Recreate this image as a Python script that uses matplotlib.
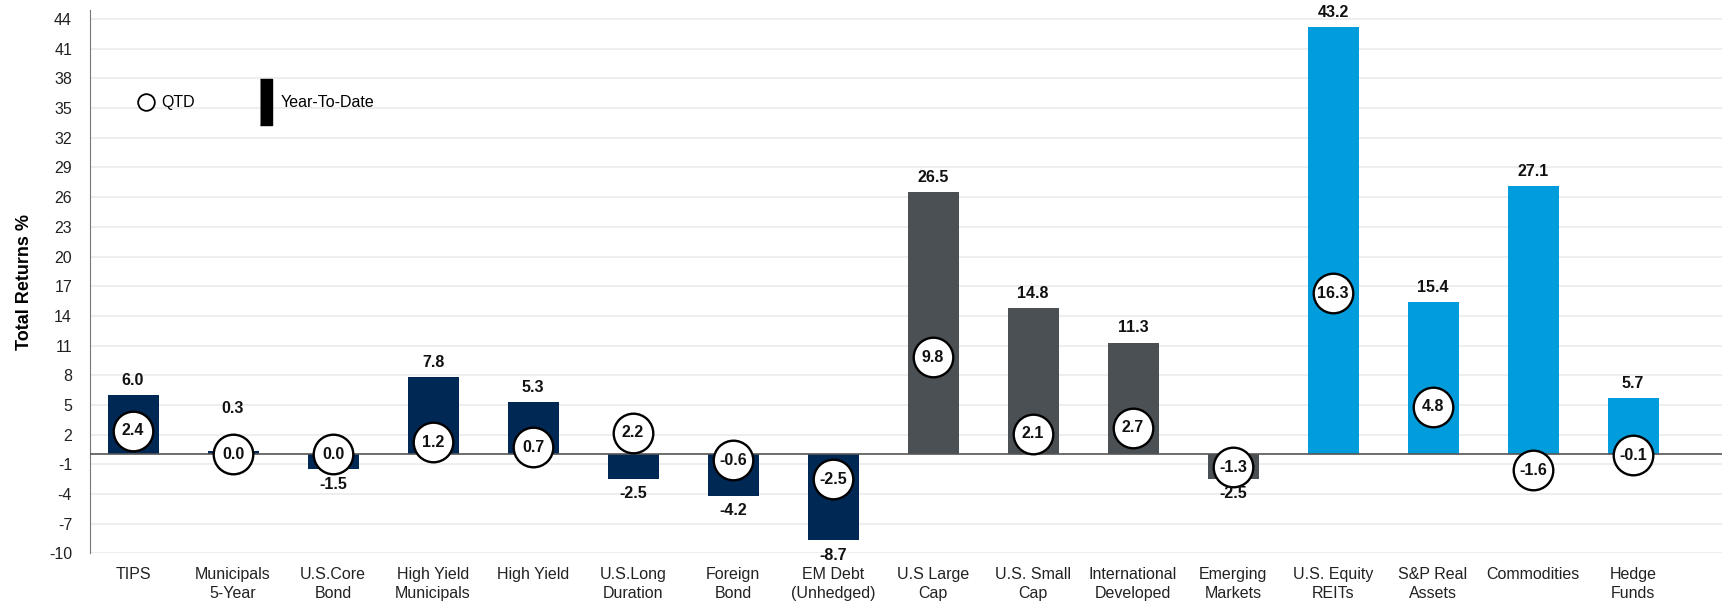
import matplotlib.pyplot as plt
from matplotlib.lines import Line2D
import numpy as np

plt.rcParams["font.family"] = ["Liberation Sans", "DejaVu Sans"]
plt.rcParams["axes.unicode_minus"] = False

# === Data ===
categories = ["TIPS", "Municipals\n5-Year", "U.S.Core\nBond", "High Yield\nMunicipals",
              "High Yield", "U.S.Long\nDuration", "Foreign\nBond", "EM Debt\n(Unhedged)",
              "U.S Large\nCap", "U.S. Small\nCap", "International\nDeveloped",
              "Emerging\nMarkets", "U.S. Equity\nREITs", "S&P Real\nAssets",
              "Commodities", "Hedge\nFunds"]
ytd = [6.0, 0.3, -1.5, 7.8, 5.3, -2.5, -4.2, -8.7, 26.5, 14.8, 11.3, -2.5, 43.2, 15.4, 27.1, 5.7]
qtd = [2.4, 0.0, 0.0, 1.2, 0.7, 2.2, -0.6, -2.5, 9.8, 2.1, 2.7, -1.3, 16.3, 4.8, -1.6, -0.1]
groups = ["fi"] * 8 + ["eq"] * 4 + ["ra"] * 4

group_colors = {"fi": "#002855", "eq": "#4b5055", "ra": "#009cdc"}

# === Figure ===
fig = plt.figure(figsize=(17.22, 6.02), dpi=100)
ax = fig.add_axes([0.0523, 0.081, 0.9477, 0.902])

x = np.arange(len(categories))
colors = [group_colors[g] for g in groups]
ax.bar(x, ytd, width=0.51, color=colors, zorder=2)

# QTD circles
ax.scatter(x, qtd, s=28.5**2, facecolor="white", edgecolor="black", linewidth=1.7, zorder=4)
for xi, q in zip(x, qtd):
    ax.text(xi, q, f"{q:.1f}", ha="center", va="center", fontsize=11.5,
            fontweight="bold", color="#111111", zorder=5)

# YTD labels (pushed above the circle when the bar is too short)
for xi, v, q in zip(x, ytd, qtd):
    if v >= 0:
        y = max(v + 1.5, q + 4.6)
    else:
        y = v - 1.5
    ax.text(xi, y, f"{v:.1f}", ha="center", va="center", fontsize=11.5,
            fontweight="bold", color="#111111", zorder=5)

# === Axes formatting ===
ax.set_xlim(-0.43, len(categories) - 1 + 0.89)
ax.set_ylim(-10, 44.9)
ax.set_yticks(np.arange(-10, 45, 3))
ax.grid(axis="y", color="#ebebeb", linewidth=1.2, zorder=0)
ax.axhline(0, color="#555555", linewidth=1.2, zorder=3)
ax.set_xticks(x)
ax.set_xticklabels(categories, fontsize=11.5, color="#222222", linespacing=1.3)
ax.tick_params(axis="both", length=0)
ax.tick_params(axis="y", labelsize=11.5, labelcolor="#222222", pad=13)
ax.tick_params(axis="x", pad=10)
for s in ["top", "right", "bottom"]:
    ax.spines[s].set_visible(False)
ax.spines["left"].set_color("#777777")
ax.set_ylabel("Total Returns %", fontsize=13, fontweight="bold")
ax.yaxis.set_label_coords(-0.035, 0.5)

# === Legend ===
handles = [
    Line2D([], [], linestyle="none", marker="o", markersize=12, markerfacecolor="white",
           markeredgecolor="black", markeredgewidth=1.3, label="QTD"),
    Line2D([], [], linestyle="none", marker=[(-0.13, -0.5), (0.13, -0.5), (0.13, 0.5), (-0.13, 0.5)],
           markersize=33, color="black", label="Year-To-Date"),
]
ax.legend(handles=handles, ncol=2, frameon=False, loc="upper left",
          bbox_to_anchor=(0.018, 0.87), fontsize=11.5, handletextpad=0.2,
          columnspacing=3.7, handlelength=1.5)

fig.savefig("out.png", dpi=100)
